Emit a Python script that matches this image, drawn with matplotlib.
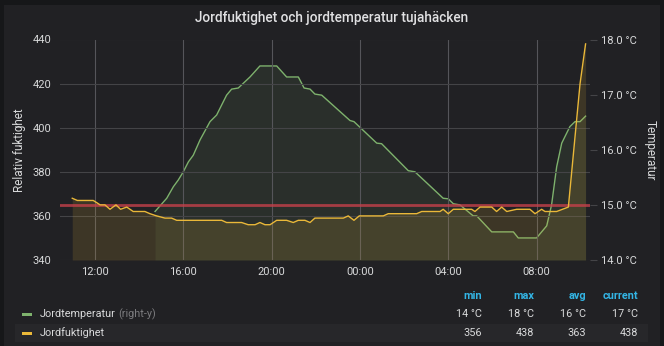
import matplotlib
matplotlib.use("Agg")
import matplotlib.pyplot as plt
from matplotlib.patches import Rectangle

# ---------------- data ----------------
# time in hours since midnight of day 1 (24 = 00:00 next day)
temp_time = [14.72, 15.25, 15.55, 15.77, 16.0, 16.23, 16.45, 16.76, 17.21, 17.51,
             17.96, 18.19, 18.49, 19.02, 19.47, 20.23, 20.68, 21.21, 21.47, 21.74,
             21.96, 22.27, 23.55, 23.73, 24.76, 24.98, 26.19, 26.49, 27.77, 28.0,
             28.23, 28.53, 29.13, 29.29, 29.97, 30.95, 31.17, 32.0, 32.46, 32.68,
             32.91, 33.14, 33.51, 33.74, 33.97, 34.22]
temp_vals = [14.88, 15.12, 15.33, 15.45, 15.6, 15.78, 15.9, 16.18, 16.51, 16.63,
             16.99, 17.1, 17.12, 17.32, 17.52, 17.52, 17.32, 17.32, 17.12, 17.1,
             17.01, 16.99, 16.53, 16.51, 16.12, 16.11, 15.62, 15.6, 15.12, 15.11,
             15.02, 15.0, 14.8, 14.8, 14.51, 14.51, 14.4, 14.4, 14.62, 15.0,
             15.69, 16.12, 16.42, 16.51, 16.51, 16.61]

moist_time = [10.97, 11.2, 11.92, 12.08, 12.23, 12.45, 12.68, 12.95, 13.16, 13.44,
              13.73, 14.26, 14.49, 14.79, 15.17, 15.47, 15.7, 17.74, 17.96, 18.64,
              18.94, 19.25, 19.47, 19.7, 19.93, 20.23, 20.68, 20.98, 21.21, 21.51,
              21.74, 21.96, 23.25, 23.47, 23.73, 23.97, 25.06, 25.28, 26.57, 26.8,
              27.63, 27.77, 28.0, 28.23, 29.06, 29.21, 29.44, 29.97, 30.19, 30.42,
              30.65, 31.1, 31.7, 31.93, 32.23, 32.38, 32.91, 33.44, 33.97, 34.22]
moist_vals = [368, 367, 367, 366, 365, 365, 363, 365, 363, 364,
              362, 362, 361, 360, 359, 359, 358, 358, 357, 357,
              356, 356, 357, 356, 356, 358, 358, 357, 358, 358,
              357, 359, 359, 360, 358, 360, 360, 361, 361, 362,
              362, 363, 361, 363, 363, 362, 364, 364, 362, 364,
              362, 363, 363, 361, 363, 362, 362, 364, 420, 438]

threshold = 365

xtick_pos = [12, 16, 20, 24, 28, 32]
xtick_labels = ["12:00", "16:00", "20:00", "00:00", "04:00", "08:00"]
left_ticks = [340, 360, 380, 400, 420, 440]
right_ticks = [14.0, 15.0, 16.0, 17.0, 18.0]

legend_names = ["Jordtemperatur", "Jordfuktighet"]
legend_stats = [["14 °C", "18 °C", "16 °C", "17 °C"],
                ["356", "438", "363", "438"]]
stat_headers = ["min", "max", "avg", "current"]

# ---------------- style ----------------
plt.rcParams['font.family'] = ['Roboto', 'DejaVu Sans']
W, H = 664, 346
OUTER = "#161719"
PANEL = "#212124"
TEXT = "#d8d9da"
GRID = "#444447"
GREEN = "#7eb26d"
YELLOW = "#eab839"

fig = plt.figure(figsize=(W / 100, H / 100), dpi=100)
fig.patch.set_facecolor(OUTER)
fig.add_artist(Rectangle((4 / W, 0), 1 - 8 / W, 1 - 5 / H, transform=fig.transFigure,
                         facecolor=PANEL, edgecolor="none", zorder=-10))

def fx(px):
    return px / W

def fy(py):
    return 1 - py / H

ax = fig.add_axes([fx(60), fy(260), fx(590) - fx(60), fy(39.5) - fy(260)])
ax.set_facecolor("none")
ax2 = ax.twinx()
ax2.set_facecolor("none")

xmin, xmax = 10.415, 34.42
ax.set_xlim(xmin, xmax)
ax.set_ylim(340, 440)
ax2.set_ylim(14, 18)

for t in xtick_pos:
    ax.axvline(t, color="#55555a", lw=0.8, zorder=0)
for v in left_ticks:
    ax.axhline(v, color=GRID, lw=0.8, zorder=0)

ax2.fill_between(temp_time, 14, temp_vals, color=GREEN, alpha=0.1, lw=0, zorder=1)
ax2.plot(temp_time, temp_vals, color=GREEN, lw=1.0, zorder=2)

ax.fill_between(moist_time, 340, moist_vals, color=YELLOW, alpha=0.14, lw=0, zorder=1)
ax2.set_zorder(1)
ax.set_zorder(2)
ax.plot(moist_time, moist_vals, color=YELLOW, lw=1.0, zorder=3)
ax.axhline(threshold, color="#c5404a", lw=2.0, alpha=0.8, zorder=2)

for a in (ax, ax2):
    for s in a.spines.values():
        s.set_visible(False)

ax.set_xticks(xtick_pos)
ax.set_xticklabels(xtick_labels)
ax.set_yticks(left_ticks)
ax.set_yticklabels([str(v) for v in left_ticks])
ax.tick_params(axis="x", length=0, pad=5, labelsize=8, labelcolor=TEXT)
ax.tick_params(axis="y", length=0, pad=6, labelsize=8, labelcolor=TEXT)

ax2.set_yticks(right_ticks)
ax2.set_yticklabels([f"{v:.1f} °C" for v in right_ticks])
ax2.tick_params(axis="y", length=5, width=0.8, color=GRID, pad=3, labelsize=8,
                labelcolor=TEXT)

ax.set_ylabel("Relativ fuktighet", color=TEXT, fontsize=8.5, labelpad=5)
ax2.set_ylabel("Temperatur", color=TEXT, fontsize=8.5, rotation=270, labelpad=14)

fig.text(0.5, fy(18), "Jordfuktighet och jordtemperatur tujahäcken", ha="center",
         va="center", color="#e0e0e2", fontsize=9.8, fontweight="medium")

# ---------------- legend table ----------------
fig.add_artist(Rectangle((fx(15), fy(342)), fx(648) - fx(15), (342 - 324) / H,
                         transform=fig.transFigure, facecolor="#27272a",
                         edgecolor="none", zorder=-5))
col_right = [482, 534, 586, 638]
for x, h in zip(col_right, stat_headers):
    fig.text(fx(x), fy(296), h, ha="right", va="center", color="#33b5e5",
             fontsize=7.8, fontweight="bold")
row_y = [314, 333]
colors = [GREEN, YELLOW]
for r, (name, stats) in enumerate(zip(legend_names, legend_stats)):
    y = row_y[r]
    fig.add_artist(Rectangle((fx(22), fy(y + 1.5)), fx(10), 3 / H,
                             transform=fig.transFigure, facecolor=colors[r],
                             edgecolor="none"))
    fig.text(fx(40), fy(y), name, ha="left", va="center", color=TEXT, fontsize=7.8)
    if r == 0:
        fig.text(fx(118), fy(y), "(right-y)", ha="left", va="center",
                 color="#7b7b7e", fontsize=7.8)
    for x, s in zip(col_right, stats):
        fig.text(fx(x), fy(y), s, ha="right", va="center", color=TEXT, fontsize=7.8)

fig.savefig("out.png", dpi=100, facecolor=fig.get_facecolor())
